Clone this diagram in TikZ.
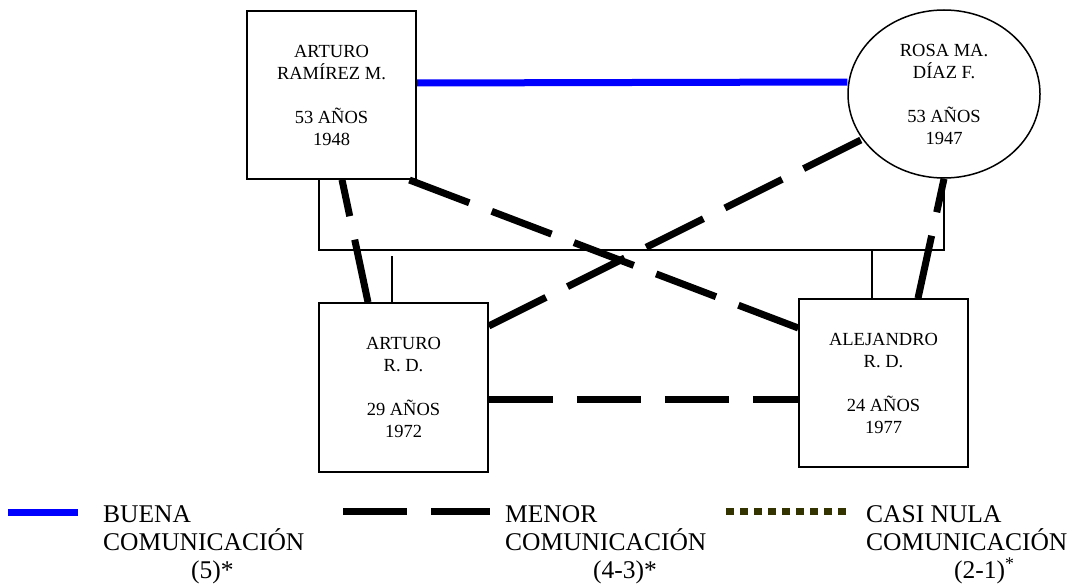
\documentclass[tikz,border=0pt]{standalone}
\usepackage{fontspec}
\setmainfont{Liberation Serif}
\usetikzlibrary{shapes.geometric}
\definecolor{nula}{RGB}{51,51,0}

\begin{document}
\begin{tikzpicture}[x=1pt,y=-1pt,
  persona/.style={draw,line width=1.5pt,align=center,inner sep=0pt,font=\fontsize{18.5}{22}\selectfont},
  caja/.style={persona,rectangle,minimum width=169pt,minimum height=168pt},
  elipse/.style={persona,ellipse,minimum width=192pt,minimum height=168pt},
  familia/.style={line width=1.5pt},
  buena/.style={blue,line width=7pt},
  menor/.style={line width=7pt,dash pattern=on 64pt off 24pt},
  casinula/.style={nula,line width=7pt,dash pattern=on 8pt off 6pt},
  leyenda/.style={anchor=north west,align=left,inner sep=0pt,font=\fontsize{25.5}{28}\selectfont}]
  \useasboundingbox (0,0) rectangle (1078,586);
  \node[caja] (arturo) at (331.5,95) {ARTURO\\RAMÍREZ M.\\[22pt]53 AÑOS\\1948};
  \node[elipse] (rosa) at (944,94) {ROSA MA.\\DÍAZ F.\\[22pt]53 AÑOS\\1947};
  \node[caja,minimum height=169pt] (arturord) at (403.5,387.5) {ARTURO\\R. D.\\[22pt]29 AÑOS\\1972};
  \node[caja] (alejandro) at (883.5,383) {ALEJANDRO\\R. D.\\[22pt]24 AÑOS\\1977};
  \coordinate (union) at (631,250);
  \draw[buena] ([yshift=12pt]arturo.east) -- ([yshift=12pt]rosa.west);
  \draw[familia] ([xshift=-12.5pt]arturo.south) |- (union) -| (rosa.south);
  \draw[familia] ([xshift=-11.5pt]arturord.north) -- ++(0,-46);
  \draw[familia] ([xshift=-11.5pt]alejandro.north) -- ++(0,-49);
  \draw[menor] ([xshift=-35.5pt]arturord.north) -- ([xshift=10.5pt]arturo.south);
  \draw[menor] ([xshift=34.5pt]alejandro.north) -- (rosa.south);
  \draw[menor] ([yshift=61.5pt]arturord.east) -- (rosa.209);
  \draw[menor] ([yshift=55pt]alejandro.west) -- ([xshift=-8pt]arturo.south east);
  \draw[menor] ([yshift=-11.5pt]arturord.east) -- ([yshift=-16pt]alejandro.west);
  \coordinate (b1) at (8,512);
  \coordinate (b2) at (78,512);
  \coordinate (m1) at (343,511);
  \coordinate (m2) at (490,511);
  \coordinate (n1) at (726,511);
  \coordinate (n2) at (846,511);
  \draw[buena] (b1) -- (b2);
  \draw[menor] (m1) -- (m2);
  \draw[casinula] (n1) -- (n2);
  \node[leyenda] (tbuena) at (103,505) {BUENA\\COMUNICACIÓN\\\hspace*{88pt}(5)*};
  \node[leyenda] (tmenor) at (505,505) {MENOR\\COMUNICACIÓN\\\hspace*{88pt}(4-3)*};
  \node[leyenda] (tnula) at (866,505) {CASI NULA\\COMUNICACIÓN\\\hspace*{88pt}(2-1)\textsuperscript{*}};
\end{tikzpicture}
\end{document}
